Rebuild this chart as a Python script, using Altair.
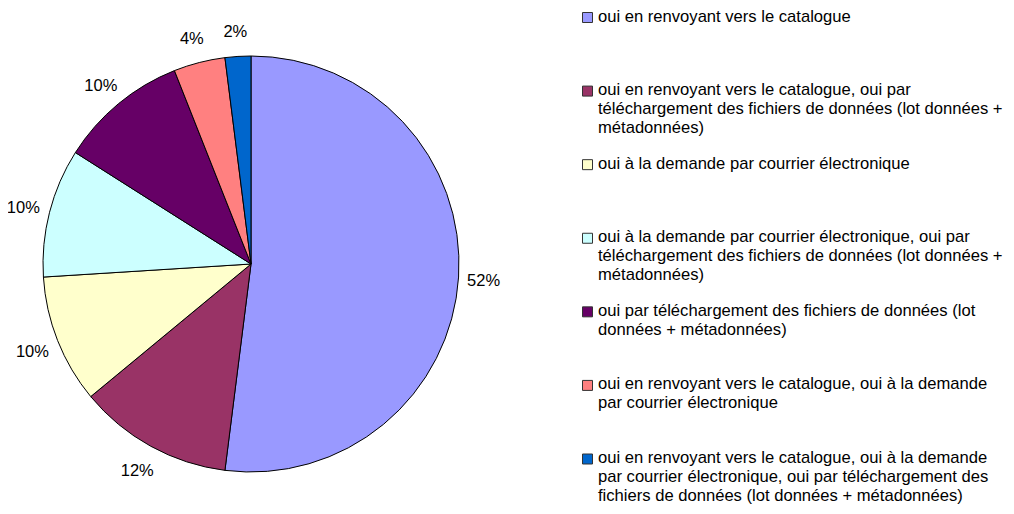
import altair as alt
import pandas as pd

categories = [
    "oui en renvoyant vers le catalogue",
    "oui en renvoyant vers le catalogue, oui par\ntéléchargement des fichiers de données (lot données +\nmétadonnées)",
    "oui à la demande par courrier électronique",
    "oui à la demande par courrier électronique, oui par\ntéléchargement des fichiers de données (lot données +\nmétadonnées)",
    "oui par téléchargement des fichiers de données (lot\ndonnées + métadonnées)",
    "oui en renvoyant vers le catalogue, oui à la demande\npar courrier électronique",
    "oui en renvoyant vers le catalogue, oui à la demande\npar courrier électronique, oui par téléchargement des\nfichiers de données (lot données + métadonnées)",
]
percentages = [52, 12, 10, 10, 10, 4, 2]
colors = ["#9999FF", "#993366", "#FFFFCC", "#CCFFFF", "#660066", "#FF8080", "#0066CC"]

df = pd.DataFrame({
    "cat": categories,
    "pct": percentages,
    "ord": list(range(len(categories))),
})

FONT = "Liberation Sans"
FS = 16.6

color = alt.Color("cat:N", scale=alt.Scale(domain=categories, range=colors), legend=None)
theta = alt.Theta("pct:Q", stack=True)
order = alt.Order("ord:Q", sort="ascending")

pie = alt.Chart(df).mark_arc(radius=208, stroke="black", strokeWidth=1).encode(
    theta=theta, color=color, order=order,
    x=alt.value(243), y=alt.value(256),
)

labels = alt.Chart(df).transform_calculate(
    lbl="datum.pct + '%'"
).mark_text(radius=234, font=FONT, fontSize=16.5, color="black").encode(
    theta=theta, order=order, text="lbl:N",
    x=alt.value(242), y=alt.value(258),
)

ypos = alt.Y("cat:N", sort=categories, axis=None,
             scale=alt.Scale(type="point", domain=categories, range=[9.5, 451], padding=0))

leg_sq = alt.Chart(df).mark_square(size=100, stroke="#333333", strokeWidth=1, opacity=1).encode(
    y=ypos, x=alt.value(579.5), color=color,
)

leg_txt = alt.Chart(df).mark_text(
    align="left", baseline="top", dy=-9, font=FONT, fontSize=FS,
    lineBreak="\n", lineHeight=18.8, color="black",
).encode(
    y=ypos, x=alt.value(590), text="cat:N",
)

chart = alt.layer(pie, labels, leg_sq, leg_txt).properties(
    width=998, height=498, padding=0,
    autosize=alt.AutoSizeParams(type="none"),
).configure_view(stroke=None)

chart.save("out.html", embed_options={"renderer": "svg", "actions": False})
